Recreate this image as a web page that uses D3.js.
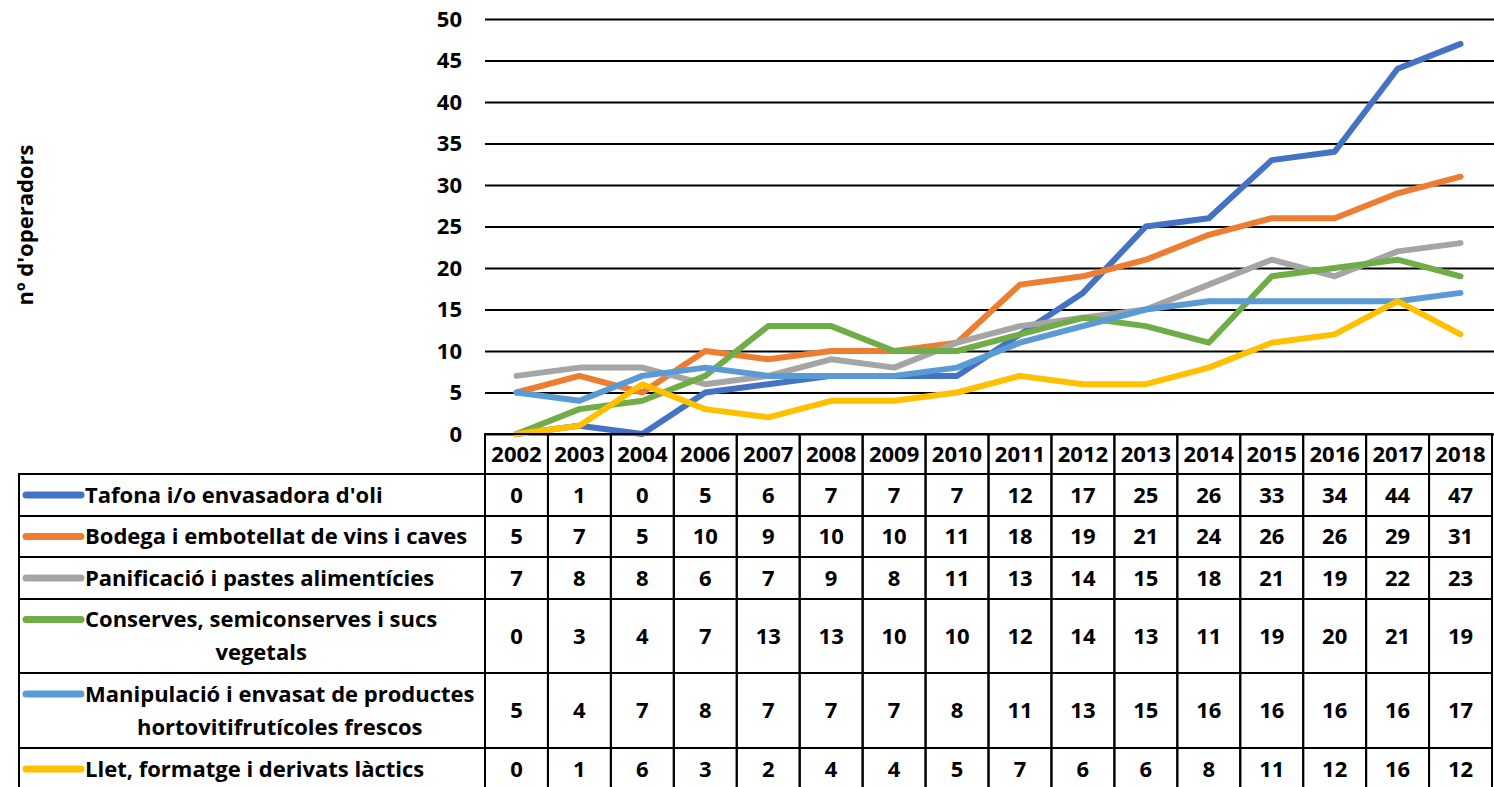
<!DOCTYPE html>
<html>
<head>
<meta charset="utf-8">
<script src="https://cdn.jsdelivr.net/npm/d3@7"></script>
<style>
  body { margin: 0; background: #fff; }
  text { font-family: "Open Sans", sans-serif; font-weight: bold; fill: #000; }
</style>
</head>
<body>
<div id="chart"></div>
<script>
(function() {
    var width = 1494;
    var height = 787;

    // data
    var years = ["2002","2003","2004","2006","2007","2008","2009","2010","2011","2012","2013","2014","2015","2016","2017","2018"];
    var seriesNames = [
        ["Tafona i/o envasadora d'oli"],
        ["Bodega i embotellat de vins i caves"],
        ["Panificació i pastes alimentícies"],
        ["Conserves, semiconserves i sucs", "vegetals"],
        ["Manipulació i envasat de productes", "hortovitifrutícoles frescos"],
        ["Llet, formatge i derivats làctics"]
    ];
    var tafona    = [0,1,0,5,6,7,7,7,12,17,25,26,33,34,44,47];
    var bodega    = [5,7,5,10,9,10,10,11,18,19,21,24,26,26,29,31];
    var panific   = [7,8,8,6,7,9,8,11,13,14,15,18,21,19,22,23];
    var conserves = [0,3,4,7,13,13,10,10,12,14,13,11,19,20,21,19];
    var manipul   = [5,4,7,8,7,7,7,8,11,13,15,16,16,16,16,17];
    var llet      = [0,1,6,3,2,4,4,5,7,6,6,8,11,12,16,12];
    var colors = ["#4472C4","#ED7D31","#A5A5A5","#70AD47","#5B9BD5","#FFC000"];

    var series = [tafona, bodega, panific, conserves, manipul, llet].map(function(v, i) {
        return { name: seriesNames[i], values: v, color: colors[i] };
    });

    var fontSize = "22px";

    var svg = d3.select("#chart").append("svg")
        .attr("width", width)
        .attr("height", height);

    var plotLeft = 485, plotRight = 1492, plotTop = 19, plotBottom = 434;

    var x = d3.scaleBand().domain(years).range([plotLeft, plotRight]);
    var y = d3.scaleLinear().domain([0, 50]).range([plotBottom, plotTop]);

    // gridlines + y labels
    var yAxis = d3.axisLeft(y)
        .tickValues(d3.range(0, 51, 5))
        .tickSize(-(width - plotLeft))
        .tickPadding(23);

    var gy = svg.append("g")
        .attr("transform", "translate(" + plotLeft + ",0)")
        .call(yAxis);
    gy.select(".domain").remove();
    gy.selectAll(".tick line").attr("stroke", "#000").attr("stroke-width", 2);
    gy.selectAll(".tick text")
        .attr("font-size", fontSize)
        .attr("font-family", "Open Sans, sans-serif")
        .attr("font-weight", "bold")
        .attr("fill", "#000");

    // axis title
    svg.append("text")
        .attr("transform", "translate(33,225) rotate(-90)")
        .attr("text-anchor", "middle")
        .attr("font-size", fontSize)
        .text("nº d'operadors");

    // lines
    var line = d3.line()
        .x(function(d, i) { return x(years[i]) + x.bandwidth() / 2; })
        .y(function(d) { return y(d); });

    svg.selectAll(".series")
        .data(series)
        .enter()
        .append("path")
        .attr("class", "series")
        .attr("d", function(d) { return line(d.values); })
        .attr("fill", "none")
        .attr("stroke", function(d) { return d.color; })
        .attr("stroke-width", 6)
        .attr("stroke-linejoin", "round")
        .attr("stroke-linecap", "round");

    // data table
    var tableLeft = 19;
    var headerTop = plotBottom, headerBottom = 474;
    var rowHeights = [42, 41, 42, 74, 75, 42];
    var rowTops = [];
    var acc = headerBottom;
    rowHeights.forEach(function(h) { rowTops.push(acc); acc += h; });

    var table = svg.append("g");

    // header cells
    table.selectAll(".yearcell")
        .data(years)
        .enter()
        .append("rect")
        .attr("x", function(d) { return x(d); })
        .attr("y", headerTop)
        .attr("width", x.bandwidth())
        .attr("height", headerBottom - headerTop)
        .attr("fill", "none")
        .attr("stroke", "#000")
        .attr("stroke-width", 2);

    table.selectAll(".yearlabel")
        .data(years)
        .enter()
        .append("text")
        .attr("x", function(d) { return x(d) + x.bandwidth() / 2; })
        .attr("y", (headerTop + headerBottom) / 2)
        .attr("dy", "0.36em")
        .attr("text-anchor", "middle")
        .attr("font-size", fontSize)
        .text(function(d) { return d; });

    // body rows
    var rows = table.selectAll(".row")
        .data(series)
        .enter()
        .append("g")
        .attr("class", "row");

    rows.append("rect")
        .attr("x", tableLeft)
        .attr("y", function(d, i) { return rowTops[i]; })
        .attr("width", plotLeft - tableLeft)
        .attr("height", function(d, i) { return rowHeights[i]; })
        .attr("fill", "none")
        .attr("stroke", "#000")
        .attr("stroke-width", 2);

    rows.each(function(s, i) {
        var g = d3.select(this);
        g.selectAll(".cell")
            .data(s.values)
            .enter()
            .append("rect")
            .attr("x", function(d, j) { return x(years[j]); })
            .attr("y", rowTops[i])
            .attr("width", x.bandwidth())
            .attr("height", rowHeights[i])
            .attr("fill", "none")
            .attr("stroke", "#000")
            .attr("stroke-width", 2);

        g.selectAll(".val")
            .data(s.values)
            .enter()
            .append("text")
            .attr("x", function(d, j) { return x(years[j]) + x.bandwidth() / 2; })
            .attr("y", rowTops[i] + rowHeights[i] / 2)
            .attr("dy", "0.36em")
            .attr("text-anchor", "middle")
            .attr("font-size", fontSize)
            .text(function(d) { return d; });

        var nLines = s.name.length;
        var firstY = rowTops[i] + rowHeights[i] / 2 - (nLines - 1) * 16.5;

        g.append("line")
            .attr("x1", 26).attr("x2", 81)
            .attr("y1", firstY).attr("y2", firstY)
            .attr("stroke", s.color)
            .attr("stroke-width", 7)
            .attr("stroke-linecap", "round");

        var first = g.append("text")
            .attr("x", 85)
            .attr("y", firstY)
            .attr("dy", "0.36em")
            .attr("font-size", fontSize)
            .text(s.name[0]);

        if (nLines > 1) {
            var w = first.node().getComputedTextLength();
            g.append("text")
                .attr("x", 85 + w / 2)
                .attr("y", firstY + 33)
                .attr("dy", "0.36em")
                .attr("text-anchor", "middle")
                .attr("font-size", fontSize)
                .text(s.name[1]);
        }
    });
})();
</script>
</body>
</html>
